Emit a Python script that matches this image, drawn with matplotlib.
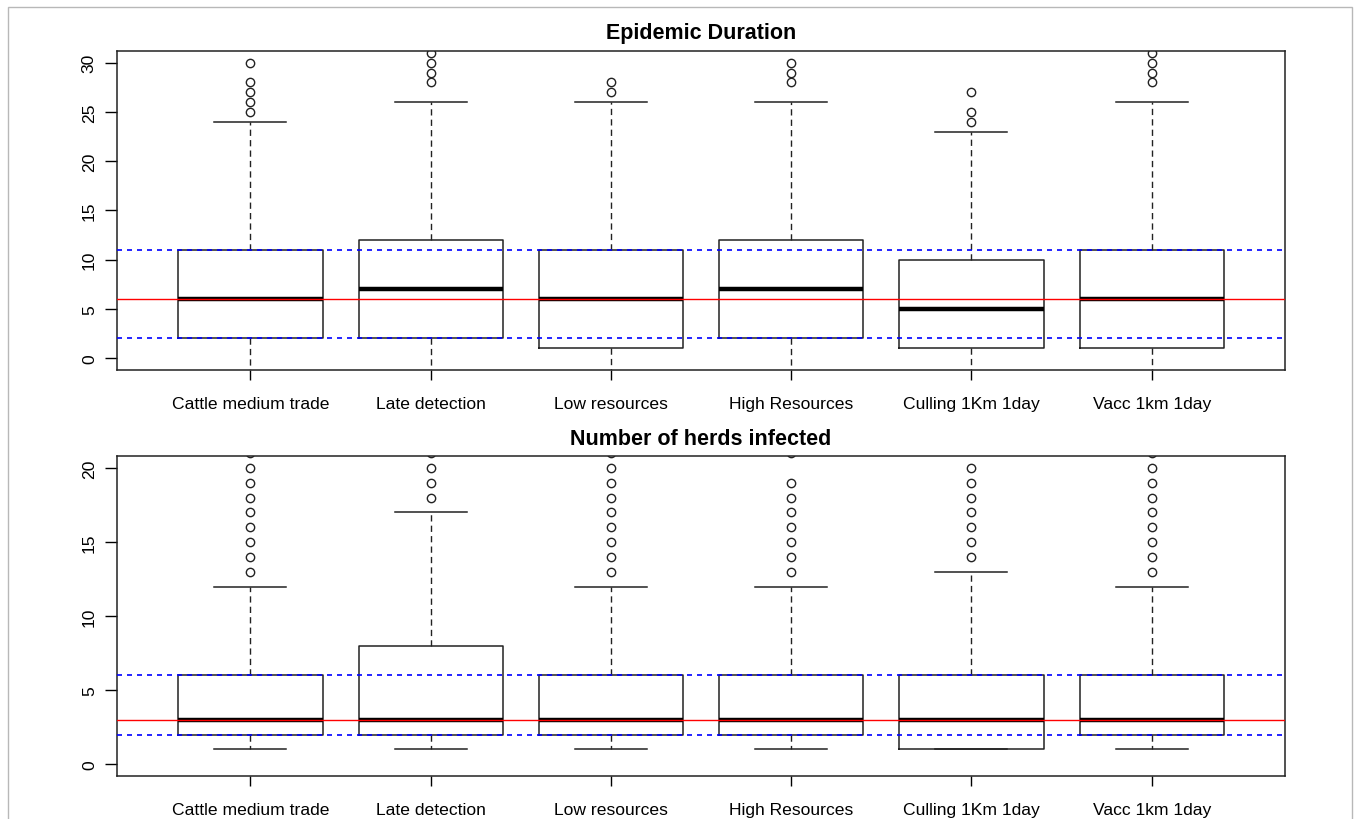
import matplotlib
matplotlib.use('Agg')
import matplotlib.pyplot as plt
from matplotlib.patches import Rectangle

plt.rcParams['font.family'] = ['Liberation Sans', 'DejaVu Sans']

#####
# Scenarios

scenarios = ['Cattle medium trade', 'Late detection', 'Low resources',
             'High Resources', 'Culling 1Km 1day', 'Vacc 1km 1day']

# Epidemic duration (box stats)
dur_whislo = [-3, -3, -3, -3, -3, -3]
dur_q1 = [2, 2, 1, 2, 1, 1]
dur_med = [6, 7, 6, 7, 5, 6]
dur_q3 = [11, 12, 11, 12, 10, 11]
dur_whishi = [24, 26, 26, 26, 23, 26]
dur_fliers = [
    [25, 26, 27, 28, 30],
    [28, 29, 30, 31],
    [27, 28],
    [28, 29, 30],
    [24, 25, 27],
    [28, 29, 30, 31],
]
dur_ref_median = 6
dur_ref_quart = [2, 11]

# Number of herds infected
herd_whislo = [1, 1, 1, 1, 1, 1]
herd_q1 = [2, 2, 2, 2, 1, 2]
herd_med = [3, 3, 3, 3, 3, 3]
herd_q3 = [6, 8, 6, 6, 6, 6]
herd_whishi = [12, 17, 12, 12, 13, 12]
herd_fliers = [
    [13, 14, 15, 16, 17, 18, 19, 20, 21],
    [18, 19, 20, 21],
    [13, 14, 15, 16, 17, 18, 19, 20, 21],
    [13, 14, 15, 16, 17, 18, 19, 21],
    [14, 15, 16, 17, 18, 19, 20],
    [13, 14, 15, 16, 17, 18, 19, 20, 21],
]
herd_ref_median = 3
herd_ref_quart = [2, 6]


def make_stats(lo, q1, med, q3, hi, fl):
    return [dict(whislo=a, q1=b, med=c, q3=d, whishi=e, fliers=f)
            for a, b, c, d, e, f in zip(lo, q1, med, q3, hi, fl)]


def panel(ax, stats, title, ylim, yticks, ref_med, ref_q):
    ax.bxp(stats, positions=range(1, len(stats) + 1), widths=0.8,
           boxprops=dict(color='#222222', linewidth=1.1),
           medianprops=dict(color='black', linewidth=3.2),
           whiskerprops=dict(color='#222222', linewidth=1.0,
                             linestyle=(0, (4.5, 3))),
           capprops=dict(color='#222222', linewidth=1.1),
           capwidths=0.4,
           flierprops=dict(marker='o', markerfacecolor='none',
                           markeredgecolor='#222222', markersize=6,
                           markeredgewidth=1.0),
           showfliers=True)
    ax.axhline(ref_med, color='red', linewidth=1.0, zorder=5)
    for q in ref_q:
        ax.axhline(q, color='blue', linewidth=1.2, linestyle=(0, (3, 3)),
                   zorder=5)
    ax.set_xlim(0.26, 6.74)
    ax.set_ylim(*ylim)
    ax.set_yticks(yticks)
    ax.set_xticks(range(1, len(scenarios) + 1))
    ax.set_xticklabels(scenarios, fontsize=12.6)
    ax.tick_params(axis='y', labelrotation=90, labelsize=12.6, length=8.5,
                   width=1, pad=6)
    ax.tick_params(axis='x', length=7, width=1, pad=12)
    for lab in ax.get_yticklabels():
        lab.set_va('center')
    for s in ax.spines.values():
        s.set_linewidth(1.1)
        s.set_color('#222222')
    ax.set_title(title, fontsize=15.5, fontweight='bold', pad=9)


fig = plt.figure(figsize=(13.56, 8.2), dpi=100)
fig.patches.append(Rectangle((8 / 1356, -0.1), 1344 / 1356, 1.1 - 8 / 820,
                             transform=fig.transFigure, fill=False,
                             edgecolor='#b8b8b8', linewidth=1.0))

ax1 = fig.add_axes([0.0863, 0.5476, 0.8614, 0.389])
panel(ax1, make_stats(dur_whislo, dur_q1, dur_med, dur_q3, dur_whishi,
                      dur_fliers),
      'Epidemic Duration', (-1.2, 31.2), range(0, 31, 5),
      dur_ref_median, dur_ref_quart)

ax2 = fig.add_axes([0.0863, 0.0524, 0.8614, 0.390])
panel(ax2, make_stats(herd_whislo, herd_q1, herd_med, herd_q3, herd_whishi,
                      herd_fliers),
      'Number of herds infected', (-0.8, 20.8), range(0, 21, 5),
      herd_ref_median, herd_ref_quart)

fig.savefig('out.png', dpi=100)
plt.close(fig)
